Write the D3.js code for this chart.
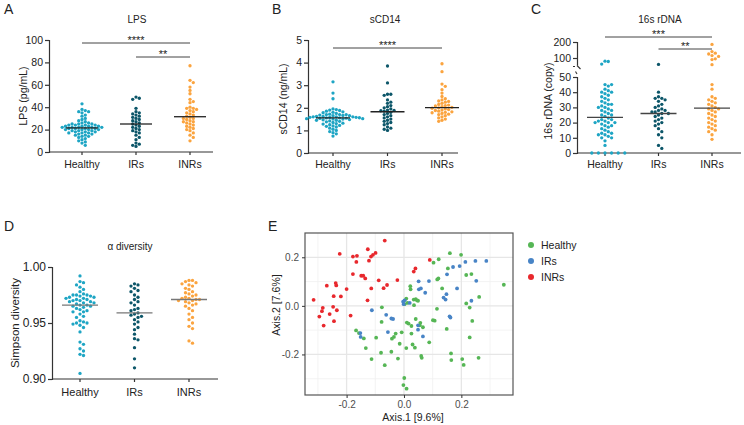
<!DOCTYPE html>
<html>
<head>
<meta charset="utf-8">
<script src="https://cdnjs.cloudflare.com/ajax/libs/d3/7.8.5/d3.min.js"></script>
<style>
  body { margin: 0; background: #fff; }
  svg { display: block; font-family: 'Liberation Sans', Arial, sans-serif; }
</style>
</head>
<body>
<svg id="fig" width="744" height="425"></svg>
<script>
// ---- data ----
const groups = ['Healthy', 'IRs', 'INRs'];

const lpsHealthy = [43, 38, 37, 36, 36, 35, 33, 32, 30, 29, 28, 27, 26, 26, 25, 25, 25, 24, 24, 24, 24, 23, 23, 23, 23,
  22, 22, 22, 22, 22, 21, 21, 21, 21, 20, 20, 20, 20, 19, 19, 19, 18, 18, 18, 17, 17, 17, 16, 16, 15, 15, 14, 14, 13,
  12, 11, 10, 9, 8, 6];
const lpsIRs = [49, 48, 47, 39, 36, 35, 34, 33, 32, 31, 30, 29, 28, 27, 26, 25, 24, 23, 22, 21, 20, 19, 18, 17, 15,
  13, 11, 8, 7, 6, 5];
const lpsINRs = [77, 64, 62, 58, 55, 52, 47, 45, 44, 40, 39, 39, 38, 37, 36, 35, 34, 33, 32, 31, 30, 30, 29, 28, 27,
  27, 26, 25, 24, 23, 22, 21, 20, 19, 17, 15, 13, 10];

const cd14Healthy = [3.15, 2.65, 2.4, 1.95, 1.92, 1.9, 1.88, 1.85, 1.82, 1.8, 1.78, 1.75, 1.72, 1.7, 1.7, 1.68, 1.65,
  1.65, 1.62, 1.6, 1.6, 1.6, 1.58, 1.58, 1.56, 1.55, 1.55, 1.54, 1.53, 1.52, 1.5, 1.5, 1.48, 1.47, 1.45, 1.45, 1.42,
  1.4, 1.38, 1.35, 1.32, 1.3, 1.28, 1.25, 1.22, 1.2, 1.18, 1.15, 1.1, 1.05, 1.0, 0.95, 0.9, 0.85, 0.75, 1.62, 1.57,
  1.66, 1.7, 1.52];
const cd14IRs = [3.85, 3.1, 2.6, 2.6, 2.55, 2.35, 2.25, 2.2, 2.1, 2.05, 2.0, 1.95, 1.9, 1.88, 1.87, 1.85, 1.8, 1.75,
  1.7, 1.65, 1.6, 1.55, 1.5, 1.45, 1.4, 1.35, 1.3, 1.25, 1.15, 1.1, 1.05, 1.0];
const cd14INRs = [3.95, 3.6, 3.05, 2.95, 2.8, 2.65, 2.5, 2.4, 2.35, 2.3, 2.28, 2.25, 2.2, 2.15, 2.12, 2.1, 2.08, 2.05,
  2.02, 2.0, 1.98, 1.95, 1.92, 1.9, 1.88, 1.85, 1.82, 1.8, 1.78, 1.75, 1.72, 1.7, 1.65, 1.6, 1.55, 1.5, 1.45, 1.4];

const rdnaHealthy = [80, 78, 62, 45, 45, 44, 42, 41, 40, 40, 39, 38, 37, 36, 35, 34, 33, 32, 32, 31, 30, 30, 29, 28,
  28, 27, 26, 25, 25, 24, 23, 22, 22, 21, 21, 20, 20, 20, 19, 18, 18, 17, 16, 15, 14, 13, 13, 12, 12, 11, 10, 10, 8,
  5, 0, 0, 0, 0, 0, 0];
const rdnaIRs = [60, 40, 37, 36, 36, 35, 34, 32, 31, 30, 29, 28, 28, 27, 27, 26, 26, 25, 24, 23, 22, 21, 20, 19, 18,
  16, 14, 12, 10, 5, 3];
const rdnaINRs = [185, 140, 130, 125, 115, 110, 95, 90, 58, 45, 42, 37, 36, 35, 34, 33, 32, 31, 30, 29, 29, 28, 27,
  26, 25, 24, 23, 22, 21, 20, 19, 18, 17, 16, 15, 14, 12, 9];

const simpHealthy = [0.992, 0.987, 0.986, 0.984, 0.982, 0.98, 0.978, 0.976, 0.975, 0.975, 0.974, 0.974, 0.973, 0.973,
  0.972, 0.972, 0.971, 0.97, 0.97, 0.969, 0.968, 0.968, 0.967, 0.966, 0.965, 0.965, 0.964, 0.963, 0.962, 0.961, 0.96,
  0.96, 0.958, 0.956, 0.955, 0.952, 0.951, 0.95, 0.95, 0.949, 0.948, 0.946, 0.942, 0.933, 0.931, 0.927, 0.925, 0.922,
  0.921, 0.905, 0.975, 0.971, 0.969, 0.966];
const simpIRs = [0.985, 0.984, 0.983, 0.981, 0.979, 0.978, 0.975, 0.973, 0.971, 0.969, 0.968, 0.966, 0.963, 0.962,
  0.961, 0.959, 0.958, 0.957, 0.956, 0.955, 0.953, 0.951, 0.949, 0.946, 0.944, 0.94, 0.936, 0.935, 0.928, 0.918, 0.91];
const simpINRs = [0.988, 0.988, 0.987, 0.986, 0.985, 0.984, 0.983, 0.981, 0.98, 0.978, 0.977, 0.976, 0.975, 0.974,
  0.973, 0.972, 0.972, 0.971, 0.971, 0.97, 0.97, 0.969, 0.968, 0.967, 0.966, 0.965, 0.963, 0.961, 0.958, 0.955, 0.953,
  0.95, 0.947, 0.945, 0.934, 0.932];

// PCoA coordinates [Axis.1, Axis.2]
const pcoaHealthy = [[0.160, 0.217], [0.199, 0.210], [0.103, 0.178], [0.121, 0.192], [0.153, 0.154], [0.217, 0.127],
  [0.235, 0.131], [0.022, 0.081], [0.023, 0.068], [0.008, 0.030], [0.002, 0.007], [0.034, 0.026], [0.041, 0.028],
  [0.045, 0.023], [0.049, 0.021], [0.035, 0.003], [0.012, 0.012], [0.116, 0.109], [0.120, 0.113], [0.133, 0.072],
  [0.115, -0.012], [0.101, -0.059], [0.107, -0.061], [0.041, -0.054], [0.010, -0.069], [0.016, -0.073],
  [0.057, -0.070], [0.066, -0.088], [0.055, -0.080], [0.026, -0.083], [0.026, -0.114], [-0.008, -0.109],
  [-0.029, -0.114], [-0.035, -0.128], [-0.042, -0.135], [-0.097, -0.131], [-0.078, -0.066], [-0.077, -0.006],
  [-0.167, -0.101], [-0.157, -0.112], [-0.140, -0.134], [-0.133, -0.174], [-0.113, -0.219], [-0.080, -0.193],
  [-0.067, -0.244], [-0.044, -0.189], [-0.021, -0.217], [-0.015, -0.156], [0.008, -0.174], [0.030, -0.159],
  [0.038, -0.172], [0.060, -0.206], [0.062, -0.214], [0.088, -0.150], [0.149, -0.095], [0.164, -0.196],
  [0.165, -0.223], [0.203, -0.219], [0.208, -0.243], [0.260, -0.214], [0.217, 0.010], [0.229, -0.007],
  [0.262, 0.037], [0.238, -0.062], [0.229, -0.130], [0.348, 0.087], [0.001, -0.297], [-0.002, -0.326],
  [0.009, -0.341]];
const pcoaIRs = [[0.051, 0.101], [0.087, 0.102], [0.052, 0.068], [0.059, 0.072], [0.074, 0.054], [0.002, 0.023],
  [-0.003, 0.017], [0.020, 0.012], [-0.001, 0.007], [-0.112, -0.018], [-0.062, -0.037], [-0.044, -0.052],
  [-0.038, -0.054], [-0.056, -0.108], [-0.152, -0.112], [-0.151, -0.128], [0.049, -0.080], [0.049, -0.098],
  [0.066, -0.126], [0.150, 0.130], [0.171, 0.160], [0.194, 0.164], [0.214, 0.181], [0.249, 0.185], [0.287, 0.185],
  [0.252, 0.103], [0.185, 0.072], [0.138, 0.034], [0.148, 0.048], [0.145, 0.026], [0.159, -0.043], [0.162, -0.048],
  [0.235, 0.021]];
const pcoaINRs = [[-0.067, 0.269], [-0.224, 0.214], [-0.178, 0.203], [-0.164, 0.206], [-0.166, 0.181],
  [-0.126, 0.233], [-0.122, 0.186], [-0.115, 0.203], [-0.108, 0.210], [-0.099, 0.218], [-0.178, 0.131],
  [-0.149, 0.124], [-0.142, 0.124], [-0.135, 0.113], [-0.088, 0.105], [-0.023, 0.106], [-0.114, 0.072],
  [-0.269, 0.083], [-0.238, 0.094], [-0.236, 0.084], [-0.200, 0.069], [-0.220, 0.039], [-0.245, 0.040],
  [-0.315, 0.025], [-0.283, -0.008], [-0.286, -0.022], [-0.295, -0.044], [-0.247, -0.004], [-0.259, -0.034],
  [-0.234, -0.018], [-0.244, -0.063], [-0.280, -0.081], [-0.186, -0.040], [-0.127, 0.023], [-0.071, 0.073],
  [-0.059, 0.086], [0.034, 0.141], [0.040, 0.154], [0.090, 0.189]];

const dotColors = ['#1ea5c4', '#0c5669', '#fba43f'];
const pcoaColors = ['#56b655', '#4884c6', '#e8282d'];

const svg = d3.select('#fig');
const axisCol = '#333';

// simple beeswarm: each point goes to the nearest free slot beside its group centre
function swarm(vals, y, cx, step) {
  const pts = vals.map(v => ({ v, y: y(v) })).sort((a, b) => a.y - b.y);
  const placed = [];
  pts.forEach(p => {
    for (let k = 0; k < 60; k++) {
      const off = k === 0 ? 0 : (k % 2 ? 1 : -1) * Math.ceil(k / 2) * step;
      if (placed.every(q => Math.hypot(q.x - (cx + off), q.y - p.y) >= step)) { p.x = cx + off; break; }
    }
    placed.push(p);
  });
  return placed;
}

function dotPanel(o) {
  const g = svg.append('g');
  const x = d3.scalePoint().domain(groups).range(o.cx);

  // y axis
  o.yAxes.forEach(a => {
    const ax = g.append('g').attr('transform', `translate(${o.ax},0)`)
      .call(d3.axisLeft(a.scale).tickValues(a.ticks).tickFormat(o.fmt || d3.format('d')).tickSizeOuter(0).tickSize(4));
    ax.select('.domain').attr('stroke', axisCol).attr('stroke-width', 1.2);
    ax.selectAll('.tick line').attr('stroke', axisCol).attr('stroke-width', 1.2);
    ax.selectAll('.tick text').attr('fill', '#222').style('font-size', o.tickFs + 'px').attr('x', -6);
  });

  // x axis
  const xa = g.append('g').attr('transform', `translate(0,${o.base})`);
  xa.append('line').attr('x1', o.ax).attr('x2', o.xEnd).attr('stroke', axisCol).attr('stroke-width', 1.2);
  groups.forEach(k => {
    xa.append('line').attr('x1', x(k)).attr('x2', x(k)).attr('y2', 3).attr('stroke', axisCol).attr('stroke-width', 1.2);
    xa.append('text').attr('x', x(k)).attr('y', o.catY - o.base).attr('text-anchor', 'middle')
      .style('font-size', o.catFs + 'px').attr('fill', '#222').text(k);
  });

  // dots + medians
  o.data.forEach((vals, i) => {
    const pts = swarm(vals, o.y, x(groups[i]), o.step || 3.3);
    g.append('g').selectAll('circle').data(pts).join('circle')
      .attr('cx', d => d.x).attr('cy', d => d.y).attr('r', 1.65).attr('fill', dotColors[i]);
    const m = o.y(d3.median(vals));
    g.append('line').attr('x1', x(groups[i]) - o.medHalf).attr('x2', x(groups[i]) + o.medHalf)
      .attr('y1', m).attr('y2', m).attr('stroke', o.medCol).attr('stroke-width', 1.3);
  });

  // significance bars
  (o.sig || []).forEach(s => {
    g.append('line').attr('x1', x(s.from)).attr('x2', x(s.to)).attr('y1', s.y).attr('y2', s.y)
      .attr('stroke', '#444').attr('stroke-width', 1);
    g.append('text').attr('x', (x(s.from) + x(s.to)) / 2).attr('y', s.y + 1).attr('text-anchor', 'middle')
      .style('font-size', '11px').attr('fill', '#222').text(s.label);
  });

  // titles
  g.append('text').attr('x', o.titleX).attr('y', o.titleY).attr('text-anchor', 'middle')
    .style('font-size', '10px').attr('fill', '#222').text(o.title);
  g.append('text').attr('transform', `translate(${o.ylabX},${o.ylabY}) rotate(-90)`).attr('text-anchor', 'middle')
    .style('font-size', (o.ylabFs || 10.5) + 'px').attr('fill', '#222').text(o.ylabel);
  g.append('text').attr('x', o.letter[1]).attr('y', o.letter[2]).style('font-size', '14px').attr('fill', '#222')
    .text(o.letter[0]);
  return g;
}

// ---- A : LPS ----
const yA = d3.scaleLinear().domain([0, 100]).range([152, 40]);
dotPanel({
  ax: 49, xEnd: 213, base: 152, cx: [82, 190], y: yA, yAxes: [{ scale: yA, ticks: [0, 20, 40, 60, 80, 100] }],
  data: [lpsHealthy, lpsIRs, lpsINRs], medHalf: 16, medCol: '#222', tickFs: 10.5, catFs: 10.5, catY: 168,
  title: 'LPS', titleX: 137, titleY: 23, ylabel: 'LPS (pg/mL)', ylabX: 27, ylabY: 96, letter: ['A', 4, 14],
  sig: [{ from: 'Healthy', to: 'INRs', y: 43, label: '****' }, { from: 'IRs', to: 'INRs', y: 57, label: '**' }]
});

// ---- B : sCD14 ----
const yB = d3.scaleLinear().domain([0, 5]).range([153, 40]);
dotPanel({
  ax: 308, xEnd: 458, base: 153, cx: [333, 442], y: yB, yAxes: [{ scale: yB, ticks: [0, 1, 2, 3, 4, 5] }],
  data: [cd14Healthy, cd14IRs, cd14INRs], medHalf: 17, medCol: '#222', tickFs: 10.5, catFs: 10.5, catY: 168,
  title: 'sCD14', titleX: 385, titleY: 23, ylabel: 'sCD14 (ng/mL)', ylabX: 287, ylabY: 99, letter: ['B', 272, 14],
  sig: [{ from: 'Healthy', to: 'INRs', y: 48, label: '****' }]
});

// ---- C : 16s rDNA (broken axis) ----
const yCLow = d3.scaleLinear().domain([0, 50]).range([153, 77]);
const yCHigh = d3.scaleLinear().domain([50, 200]).range([66, 42]);
const yC = v => v <= 50 ? yCLow(v) : yCHigh(v);
const gC = dotPanel({
  ax: 577, xEnd: 741, base: 153, cx: [605, 712], y: yC,
  yAxes: [{ scale: yCLow, ticks: [0, 10, 20, 30, 40, 50] }, { scale: yCHigh, ticks: [100, 200] }],
  data: [rdnaHealthy, rdnaIRs, rdnaINRs], medHalf: 18, medCol: '#444', tickFs: 10.5, catFs: 10.5, catY: 168,
  title: '16s rDNA', titleX: 660, titleY: 23, ylabel: '16s rDNA (copy)', ylabX: 552, ylabY: 101, letter: ['C', 531, 14],
  sig: [{ from: 'Healthy', to: 'INRs', y: 37, label: '***' }, { from: 'IRs', to: 'INRs', y: 49, label: '**' }]
});
// axis break: blank the gap, then draw the two slanted ends
gC.append('rect').attr('x', 575).attr('y', 65.5).attr('width', 5).attr('height', 8).attr('fill', '#fff');
gC.append('line').attr('x1', 577).attr('x2', 580.5).attr('y1', 65.5).attr('y2', 69)
  .attr('stroke', axisCol).attr('stroke-width', 1.1);
gC.append('line').attr('x1', 575.5).attr('x2', 577).attr('y1', 71.5).attr('y2', 74)
  .attr('stroke', axisCol).attr('stroke-width', 1.1);

// ---- D : alpha diversity ----
const yD = d3.scaleLinear().domain([0.90, 1.00]).range([379, 267]);
dotPanel({
  ax: 52, xEnd: 218, base: 379, cx: [80, 189], y: yD, yAxes: [{ scale: yD, ticks: [0.90, 0.95, 1.00] }],
  fmt: d3.format('.2f'), data: [simpHealthy, simpIRs, simpINRs], medHalf: 18, medCol: '#777', tickFs: 12,
  catFs: 11, catY: 396, title: 'α diversity', titleX: 130, titleY: 250, ylabel: 'Simpson diversity', ylabFs: 11.5,
  ylabX: 19, ylabY: 323, letter: ['D', 4, 231], step: 3.5
});

// ---- E : PCoA ----
const xE = d3.scaleLinear().domain([-0.345, 0.38]).range([305, 513]);
const yE = d3.scaleLinear().domain([-0.367, 0.30]).range([395, 233]);
const gE = svg.append('g');
const minorX = [-0.3, -0.1, 0.1, 0.3], majorX = [-0.2, 0, 0.2];
const minorY = [-0.3, -0.1, 0.1], majorY = [-0.2, 0, 0.2];
minorX.forEach(v => gE.append('line').attr('x1', xE(v)).attr('x2', xE(v)).attr('y1', 233).attr('y2', 395)
  .attr('stroke', '#f0f0f0').attr('stroke-width', 0.8));
minorY.forEach(v => gE.append('line').attr('y1', yE(v)).attr('y2', yE(v)).attr('x1', 305).attr('x2', 513)
  .attr('stroke', '#f0f0f0').attr('stroke-width', 0.8));
majorX.forEach(v => gE.append('line').attr('x1', xE(v)).attr('x2', xE(v)).attr('y1', 233).attr('y2', 395)
  .attr('stroke', '#e6e6e6').attr('stroke-width', 1.3));
majorY.forEach(v => gE.append('line').attr('y1', yE(v)).attr('y2', yE(v)).attr('x1', 305).attr('x2', 513)
  .attr('stroke', '#e6e6e6').attr('stroke-width', 1.3));

[pcoaHealthy, pcoaIRs, pcoaINRs].forEach((pts, i) => {
  gE.append('g').selectAll('circle').data(pts).join('circle')
    .attr('cx', d => xE(d[0])).attr('cy', d => yE(d[1])).attr('r', 1.9).attr('fill', pcoaColors[i]);
});
gE.append('rect').attr('x', 305).attr('y', 233).attr('width', 208).attr('height', 162)
  .attr('fill', 'none').attr('stroke', '#555').attr('stroke-width', 1.2);

const fmtE = d => d3.format('.1f')(d).replace('−', '-');
const axEx = gE.append('g').attr('transform', 'translate(0,395)').call(d3.axisBottom(xE).tickValues(majorX).tickFormat(fmtE).tickSize(3));
const axEy = gE.append('g').attr('transform', 'translate(305,0)').call(d3.axisLeft(yE).tickValues(majorY).tickFormat(fmtE).tickSize(3));
[axEx, axEy].forEach(a => {
  a.select('.domain').remove();
  a.selectAll('.tick line').attr('stroke', '#333');
  a.selectAll('.tick text').attr('fill', '#4d4d4d').style('font-size', '10px');
});
gE.append('text').attr('x', 413).attr('y', 421).attr('text-anchor', 'middle').style('font-size', '10.5px')
  .attr('fill', '#222').text('Axis.1 [9.6%]');
gE.append('text').attr('transform', 'translate(280,305) rotate(-90)').attr('text-anchor', 'middle')
  .style('font-size', '10.5px').attr('fill', '#222').text('Axis.2 [7.6%]');
gE.append('text').attr('x', 268).attr('y', 231).style('font-size', '14px').attr('fill', '#222').text('E');

// legend
const leg = gE.append('g');
groups.forEach((k, i) => {
  const yy = [245, 261, 277][i];
  leg.append('circle').attr('cx', 531).attr('cy', yy).attr('r', 3).attr('fill', pcoaColors[i]);
  leg.append('text').attr('x', 541).attr('y', yy + 3.8).style('font-size', '10.5px').attr('fill', '#222').text(k);
});
</script>
</body>
</html>
